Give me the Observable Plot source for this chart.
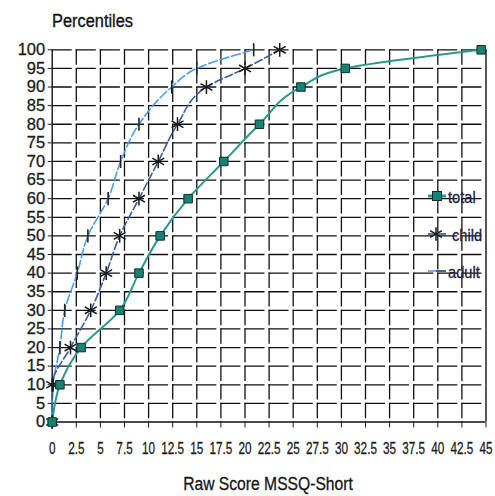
<!DOCTYPE html>
<html><head><meta charset="utf-8">
<script src="https://cdn.jsdelivr.net/npm/d3@7"></script>
<script src="https://cdn.jsdelivr.net/npm/@observablehq/plot@0.6"></script>
<style>
body{margin:0;background:#fff;font-family:"Liberation Sans",Arial,sans-serif;}
#wrap{position:relative;width:495px;height:496px;overflow:hidden;background:#fff}
#title{height:38px;box-sizing:border-box;padding:10px 0 0 52px;font-size:18px;line-height:22px;color:#151515;-webkit-text-stroke:0.35px #151515;}
#title span{display:inline-block;transform:scaleX(0.91);transform-origin:left center;}
#xlabel{position:absolute;left:268px;top:475px;font-size:18px;line-height:18px;color:#151515;white-space:nowrap;transform:translateX(-50%) scaleX(0.87);-webkit-text-stroke:0.3px #151515;}
#legend{position:absolute;left:0;top:0;pointer-events:none}
#chart svg{display:block}
#chart svg g[aria-label$="tick label"] text{stroke:#1c1c1c;stroke-width:0.3px;}
</style></head><body>
<div id="wrap">
<div id="title"><span>Percentiles</span></div>
<div id="chart"></div>
<div id="xlabel">Raw Score MSSQ-Short</div>
<svg id="legend" width="495" height="496"></svg>
</div>
<script>
const percentiles = [0, 10, 20, 30, 40, 50, 60, 70, 80, 90, 95, 100];
const total = [0, 0.8, 3, 7, 9, 11.2, 14.1, 17.8, 21.5, 25.8, 30.4, 44.5];
const child = [0, 0, 1.9, 4, 5.6, 7, 9, 11, 13, 16, 20, 23.6];
const adult = [0, 0.1, 0.8, 1.3, 2.6, 3.7, 5.8, 7.1, 9.0, 12.4, 15, 20.9];
const xTicks = [0, 2.5, 5, 7.5, 10, 12.5, 15, 17.5, 20, 22.5, 25, 27.5, 30, 32.5, 35, 37.5, 40, 42.5, 45];
const yTicks = [0, 5, 10, 15, 20, 25, 30, 35, 40, 45, 50, 55, 60, 65, 70, 75, 80, 85, 90, 95, 100];
const seriesNames = ["total", "child", "adult"];

const rows = percentiles.map((p, i) => ({p, total: total[i], child: child[i], adult: adult[i]}));

const C_TOTAL = "#2a9a8c", C_TOTAL_FILL = "#178377", C_CHILD = "#3a5d9c", C_ADULT = "#4b9cf6";
const vtick = {draw(ctx, size) { const h = Math.sqrt(size / Math.PI) * 1.1; ctx.moveTo(0, -h); ctx.lineTo(0, h); }};

const chart = Plot.plot({
  width: 495, height: 458,
  marginTop: 11.3, marginBottom: 74.5, marginLeft: 51.7, marginRight: 9.5,
  x: {domain: [0, 45]},
  y: {domain: [0, 100]},
  style: {fontFamily: "Liberation Sans, Arial, sans-serif", fontSize: "17px", color: "#1c1c1c", background: "#fff", overflow: "visible"},
  marks: [
    Plot.gridY(yTicks.filter(v => v > 0), {stroke: "#111", strokeOpacity: 1, strokeWidth: 1.3, strokeDasharray: "20,4.1"}),
    Plot.gridX(xTicks.filter(v => v > 0 && v < 45), {stroke: "#111", strokeOpacity: 1, strokeWidth: 1.3, strokeDasharray: "15.5,3.1"}),
    Plot.ruleX([0, 45], {stroke: "#111", strokeWidth: 1.4}),
    Plot.ruleY([0], {stroke: "#111", strokeWidth: 1.4}),
    Plot.axisY(yTicks, {tickSize: 4, tickPadding: 3, label: null, fontSize: 16.5, tickFormat: d => String(d)}),
    Plot.axisX(xTicks, {tickSize: 6, tickPadding: 14, label: null, fontSize: 17, tickFormat: d => String(d)}),
    Plot.line(rows, {x: "adult", y: "p", stroke: C_ADULT, strokeWidth: 1.6, strokeDasharray: "9,3", curve: "monotone-y"}),
    Plot.line(rows, {x: "child", y: "p", stroke: C_CHILD, strokeWidth: 1.6, strokeDasharray: "8,3", curve: "monotone-y"}),
    Plot.line(rows, {x: "total", y: "p", stroke: C_TOTAL, strokeWidth: 2, curve: "monotone-y"}),
    Plot.dot(rows, {x: "adult", y: "p", symbol: vtick, r: 6, stroke: "#222", strokeWidth: 1.6}),
    Plot.dot(rows, {x: "child", y: "p", symbol: "asterisk", r: 6.5, stroke: "#1a1a1a", strokeWidth: 1.5}),
    Plot.dot(rows, {x: "total", y: "p", symbol: "square", r: 4.8, fill: C_TOTAL_FILL, stroke: "#0d302c", strokeWidth: 1})
  ]
});
document.getElementById("chart").appendChild(chart);

// condense x tick labels like the reference
chart.querySelectorAll('g[aria-label="x-axis tick label"] text').forEach(t => {
  const w = t.getComputedTextLength();
  t.setAttribute("textLength", w * 0.69);
  t.setAttribute("lengthAdjust", "spacingAndGlyphs");
});

// legend
const ns = "http://www.w3.org/2000/svg";
const lg = document.getElementById("legend");
function el(name, attrs) { const e = document.createElementNS(ns, name); for (const k in attrs) e.setAttribute(k, attrs[k]); lg.appendChild(e); return e; }
const legendY = [196, 234, 271];
const legendTextX = [448, 452, 448];
seriesNames.forEach((name, i) => {
  const y = legendY[i];
  if (name === "total") {
    el("line", {x1: 428, x2: 446, y1: y, y2: y, stroke: C_TOTAL, "stroke-width": 3});
    el("rect", {x: 432.5, y: y - 4.5, width: 9, height: 9, fill: C_TOTAL_FILL, stroke: "#0d302c", "stroke-width": 1});
  } else if (name === "child") {
    el("line", {x1: 428, x2: 446, y1: y, y2: y, stroke: C_CHILD, "stroke-width": 1.6});
    el("path", {d: d3.symbol(d3.symbolAsterisk, Math.PI * 6.5 * 6.5)(), transform: `translate(436,${y})`, stroke: "#1a1a1a", "stroke-width": 1.5, fill: "none"});
  } else {
    el("line", {x1: 428, x2: 446, y1: y, y2: y, stroke: C_ADULT, "stroke-width": 1.6});
    el("line", {x1: 436, x2: 446, y1: y, y2: y, stroke: "#333", "stroke-width": 1.2});
  }
  const t = el("text", {x: legendTextX[i], y: y + 6.5, "font-size": 17, fill: "#1b2340", stroke: "#1b2340", "stroke-width": 0.3, "font-family": "Liberation Sans, Arial, sans-serif"});
  t.textContent = name;
  const w = t.getComputedTextLength();
  t.setAttribute("textLength", w * 0.86);
  t.setAttribute("lengthAdjust", "spacingAndGlyphs");
});
</script>
</body></html>
